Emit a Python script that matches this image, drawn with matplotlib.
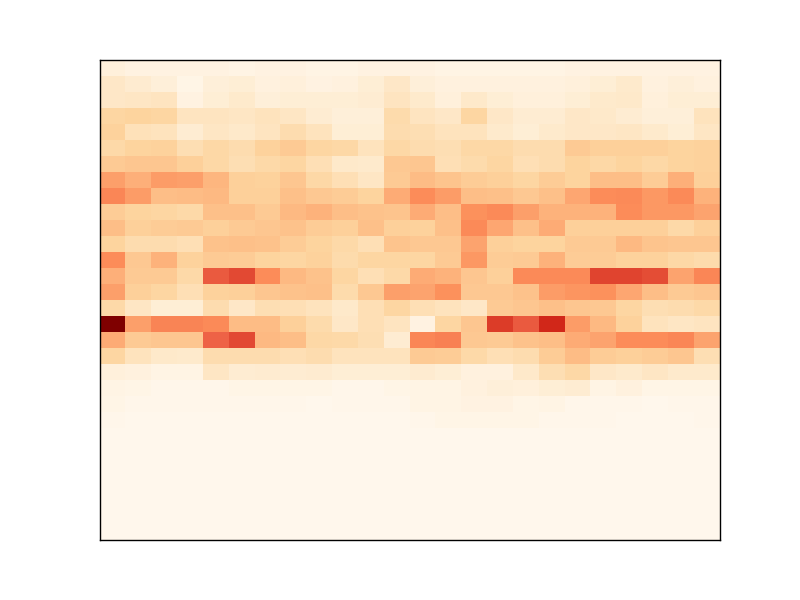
import numpy as np
import matplotlib
matplotlib.use('Agg')
import matplotlib.pyplot as plt

# values, 0-100, one list per row from the top
row_00 = [6, 4, 4, 4, 4, 3, 4, 4, 3, 3, 4, 4, 4, 3, 3, 3, 3, 3, 4, 4, 4, 4, 4, 4]
row_01 = [13, 10, 7, 2, 7, 8, 5, 6, 4, 5, 8, 13, 7, 5, 5, 5, 5, 5, 6, 8, 11, 5, 7, 5]
row_02 = [13, 14, 15, 4, 8, 11, 7, 8, 8, 8, 9, 15, 11, 6, 12, 8, 6, 6, 8, 11, 12, 6, 8, 8]
row_03 = [24, 25, 24, 15, 15, 14, 16, 14, 9, 7, 7, 21, 15, 13, 24, 13, 9, 9, 13, 12, 9, 7, 7, 16]
row_04 = [26, 17, 16, 9, 14, 12, 15, 20, 16, 8, 8, 20, 19, 16, 16, 11, 8, 11, 13, 13, 14, 11, 8, 14]
row_05 = [22, 25, 26, 19, 23, 20, 26, 30, 24, 23, 16, 23, 20, 19, 23, 23, 20, 20, 30, 27, 27, 27, 25, 26]
row_06 = [30, 32, 32, 27, 23, 19, 22, 24, 18, 12, 11, 31, 32, 18, 21, 24, 18, 20, 25, 23, 25, 23, 25, 26]
row_07 = [45, 41, 46, 45, 39, 27, 26, 32, 23, 18, 14, 30, 37, 33, 29, 27, 24, 29, 25, 36, 36, 29, 41, 27]
row_08 = [52, 46, 36, 37, 38, 27, 27, 35, 31, 29, 25, 42, 50, 46, 36, 35, 31, 35, 43, 50, 51, 47, 51, 40]
row_09 = [29, 25, 24, 22, 35, 35, 30, 38, 40, 36, 34, 33, 42, 36, 49, 51, 45, 40, 40, 40, 50, 47, 47, 44]
row_10 = [36, 27, 29, 30, 27, 30, 32, 34, 29, 27, 35, 27, 26, 35, 51, 43, 35, 42, 27, 27, 27, 27, 22, 27]
row_11 = [25, 20, 20, 18, 34, 35, 34, 29, 25, 22, 18, 33, 31, 31, 44, 27, 25, 25, 30, 30, 38, 33, 32, 32]
row_12 = [50, 31, 40, 26, 30, 29, 25, 24, 26, 21, 24, 24, 24, 30, 47, 29, 30, 40, 29, 29, 26, 26, 23, 21]
row_13 = [41, 30, 30, 22, 65, 69, 50, 38, 34, 24, 18, 22, 42, 40, 32, 27, 51, 51, 51, 70, 70, 68, 44, 52]
row_14 = [45, 27, 24, 18, 26, 27, 32, 34, 35, 21, 31, 45, 44, 49, 31, 31, 34, 46, 48, 49, 43, 36, 30, 32]
row_15 = [22, 14, 8, 8, 20, 13, 19, 18, 16, 12, 18, 24, 18, 16, 13, 30, 32, 35, 32, 31, 24, 19, 20, 22]
row_16 = [100, 45, 53, 53, 51, 37, 37, 27, 21, 13, 18, 15, 4, 24, 32, 72, 65, 77, 46, 38, 26, 16, 14, 15]
row_17 = [42, 30, 32, 32, 63, 69, 38, 36, 23, 22, 19, 9, 52, 54, 31, 30, 34, 36, 42, 44, 50, 50, 52, 44]
row_18 = [24, 16, 12, 11, 20, 20, 20, 18, 20, 16, 16, 16, 30, 29, 22, 18, 20, 29, 37, 29, 27, 29, 32, 19]
row_19 = [6, 5, 3, 3, 14, 9, 10, 9, 10, 8, 8, 8, 10, 8, 5, 5, 12, 19, 23, 13, 11, 14, 11, 11]
row_20 = [3, 2, 1, 1, 1, 2, 2, 2, 2, 1, 1, 2, 3, 3, 5, 7, 6, 8, 9, 3, 5, 2, 2, 2]
row_21 = [2, 1, 1, 1, 1, 1, 1, 1, 0, 1, 1, 1, 3, 3, 4, 4, 2, 3, 1, 1, 1, 0, 1, 1]
row_22 = [1, 0, 0, 0, 0, 0, 0, 0, 0, 0, 0, 0, 1, 2, 2, 2, 2, 1, 1, 1, 0, 0, 0, 1]
empty_row = [0] * 24

rows = [row_00, row_01, row_02, row_03, row_04, row_05, row_06, row_07,
        row_08, row_09, row_10, row_11, row_12, row_13, row_14, row_15,
        row_16, row_17, row_18, row_19, row_20, row_21, row_22] + [empty_row] * 7

data = np.array(rows)

fig, ax = plt.subplots(figsize=(8, 6), dpi=100)
fig.subplots_adjust(left=0.125, right=0.9, bottom=0.1, top=0.9)
ax.pcolor(data, cmap='OrRd', vmin=0, vmax=100)
ax.invert_yaxis()
ax.set_xticks([])
ax.set_yticks([])
for spine in ax.spines.values():
    spine.set_linewidth(1.0)

plt.savefig('out.png')
